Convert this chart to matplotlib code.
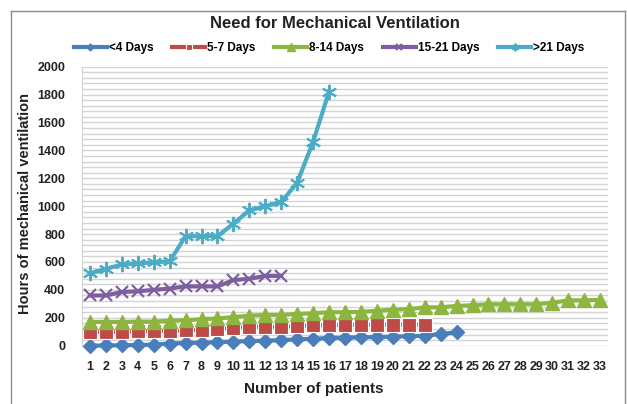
import matplotlib
matplotlib.use('Agg')
import matplotlib.pyplot as plt
from matplotlib.lines import Line2D

plt.rcParams['font.family'] = ['Liberation Sans', 'DejaVu Sans']

# data
series_names = ['<4 Days', '5-7 Days', '8-14 Days', '15-21 Days', '>21 Days']
lt4 = [0, 2, 3, 5, 8, 15, 20, 22, 25, 30, 33, 36, 40, 45, 50, 55, 58, 60, 62,
       65, 68, 70, 85, 95]
d5_7 = [100, 100, 100, 102, 105, 105, 110, 115, 120, 130, 135, 135, 135, 140,
        145, 145, 150, 150, 150, 150, 150, 150]
d8_14 = [170, 170, 170, 172, 172, 180, 182, 190, 195, 205, 215, 220, 220, 228,
         232, 240, 240, 242, 250, 258, 262, 275, 275, 285, 290, 297, 297, 297,
         297, 308, 325, 325, 328]
d15_21 = [360, 360, 385, 390, 400, 410, 425, 425, 425, 470, 480, 500, 500]
gt21 = [518, 550, 583, 590, 597, 605, 785, 785, 785, 875, 970, 1000, 1030,
        1168, 1462, 1821]
x_ticks = list(range(1, 34))

W, H = 627, 404
fig = plt.figure(figsize=(W / 100, H / 100), dpi=100)

# chart frame
frame = dict(color='#8c8c8c', lw=1.0, transform=fig.transFigure)
fig.add_artist(Line2D([11 / W, 11 / W], [0, 1 - 11 / H], **frame))
fig.add_artist(Line2D([11 / W, 625 / W], [1 - 11 / H, 1 - 11 / H], **frame))
fig.add_artist(Line2D([625 / W, 625 / W], [0, 1 - 11 / H], **frame))

ax = fig.add_axes([82 / W, (H - 345.7) / H, (608 - 82) / W, (345.7 - 66.7) / H])

styles = [
    dict(color='#4A7EBB', marker='D', ms=7),
    dict(color='#BE4B48', marker='s', ms=9.5, mec='white', mew=0.8),
    dict(color='#8CB63F', marker='^', ms=10.5),
    dict(color='#7D5FA0', marker='x', ms=9, mew=1.6),
    dict(color='#4BACC6', marker=(6, 2, 0), ms=11, mew=1.4),
]
for name, vals, st in zip(series_names, [lt4, d5_7, d8_14, d15_21, gt21], styles):
    xs = list(range(1, len(vals) + 1))
    ax.plot(xs, vals, lw=3, label=name, clip_on=False, **st)

ax.set_xlim(0.5, 33.5)
ax.set_ylim(0, 2000)
ax.set_yticks(range(0, 2001, 200))
ax.set_yticks(range(0, 2001, 40), minor=True)
ax.set_xticks(x_ticks)
ax.set_xticklabels([str(v) for v in x_ticks])
ax.grid(True, which='both', axis='y', color='#d4d4d4', lw=1.0)
ax.set_axisbelow(True)
for s in ['top', 'right', 'bottom']:
    ax.spines[s].set_visible(False)
ax.spines['left'].set_color('#d0d0d0')
ax.tick_params(axis='both', which='both', length=0, labelsize=9)
ax.tick_params(axis='x', pad=11)
ax.tick_params(axis='y', pad=12)
for lab in ax.get_xticklabels() + ax.get_yticklabels():
    lab.set_fontweight('bold')
    lab.set_color('#222222')

fig.text(335 / W, 1 - 23 / H, 'Need for Mechanical Ventilation', ha='center',
         va='center', fontsize=12, fontweight='bold', color='#222222')
fig.text(25 / W, 1 - 203 / H, 'Hours of mechanical ventilation', rotation=90,
         ha='center', va='center', fontsize=10.5, fontweight='bold', color='#222222')
fig.text(314 / W, 1 - 389 / H, 'Number of patients', ha='center', va='center',
         fontsize=11, fontweight='bold', color='#222222')

fig.legend(loc='center', bbox_to_anchor=(329 / W, 1 - 48 / H), ncol=5,
           frameon=False, prop=dict(size=8.5, weight='bold'), handlelength=2.8,
           handletextpad=0.15, columnspacing=1.6, markerscale=0.5)

fig.savefig('out.png', dpi=100)
